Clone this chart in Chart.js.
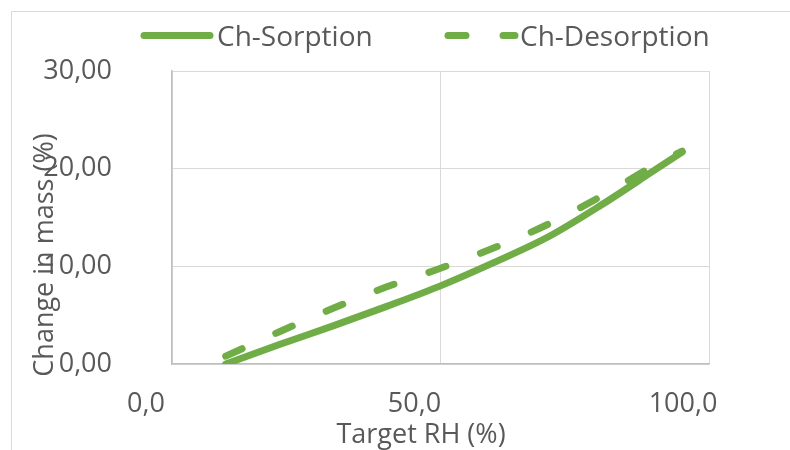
<!DOCTYPE html>
<html>
<head>
<meta charset="utf-8">
<script src="https://cdn.jsdelivr.net/npm/chart.js@4.4.1/dist/chart.umd.min.js"></script>
<style>
  html, body { margin: 0; padding: 0; background: #fff; }
  #wrap { width: 790px; height: 450px; position: relative; }
</style>
</head>
<body>
<div id="wrap"><canvas id="sorption-chart" width="790" height="450"></canvas></div>
<script>
// Dados
const targetRH = [10, 20, 30, 40, 50, 60, 70, 80, 90, 95];
const sorption = [0.0, 2.0, 3.9, 5.9, 8.0, 10.4, 13.0, 16.3, 19.9, 21.7];
const desorption = [0.8, 3.3, 5.7, 7.9, 9.8, 11.9, 14.3, 17.2, 20.4, 21.8];
const seriesNames = ['Ch-Sorption', 'Ch-Desorption'];
const xTickLabels = ['0,0', '50,0', '100,0'];
const yTickLabels = ['0,00', '10,00', '20,00', '30,00'];
const xTitle = 'Target RH (%)';
const yTitle = 'Change in mass (%)';

const green = '#70ad47';
const textGray = '#595959';
const fontFamily = '"Open Sans", "Noto Sans", sans-serif';

function toPoints(xs, ys) {
    return xs.map((x, i) => ({ x: x, y: ys[i] }));
}

// Moldura, legenda e títulos dos eixos
const decorations = {
    id: 'decorations',
    beforeDraw(chart) {
        const ctx = chart.ctx;
        ctx.save();
        ctx.fillStyle = '#ffffff';
        ctx.fillRect(0, 0, chart.width, chart.height);
        ctx.strokeStyle = '#d9d9d9';
        ctx.lineWidth = 1;
        ctx.beginPath();
        ctx.moveTo(11.5, chart.height);
        ctx.lineTo(11.5, 11.5);
        ctx.lineTo(chart.width, 11.5);
        ctx.stroke();
        ctx.restore();
    },
    afterDraw(chart) {
        const ctx = chart.ctx;
        ctx.save();
        ctx.fillStyle = textGray;

        // legenda
        const items = [
            { x0: 144, x1: 210, tx: 217 },
            { x0: 448, x1: 515, tx: 520 }
        ];
        chart.data.datasets.forEach((ds, i) => {
            const it = items[i];
            ctx.strokeStyle = ds.borderColor;
            ctx.lineWidth = ds.borderWidth;
            ctx.lineCap = 'round';
            ctx.setLineDash(ds.borderDash || []);
            ctx.beginPath();
            ctx.moveTo(it.x0, 35.5);
            ctx.lineTo(it.x1, 35.5);
            ctx.stroke();
            ctx.setLineDash([]);
            ctx.font = '28px ' + fontFamily;
            ctx.textAlign = 'left';
            ctx.textBaseline = 'alphabetic';
            ctx.fillText(ds.label, it.tx, 46);
        });

        // títulos
        ctx.font = '27px ' + fontFamily;
        ctx.textAlign = 'center';
        ctx.textBaseline = 'alphabetic';
        ctx.fillText(xTitle, 421, 443);
        ctx.translate(53, 255);
        ctx.rotate(-Math.PI / 2);
        ctx.fillText(yTitle, 0, 0);
        ctx.restore();
    }
};

const data = {
    datasets: [{
        label: seriesNames[0],
        data: toPoints(targetRH, sorption),
        borderColor: green,
        borderWidth: 7,
        borderCapStyle: 'round',
        borderJoinStyle: 'round',
        pointRadius: 0,
        cubicInterpolationMode: 'monotone',
        fill: false
    }, {
        label: seriesNames[1],
        data: toPoints(targetRH, desorption),
        borderColor: green,
        borderWidth: 7,
        borderDash: [18, 37],
        borderCapStyle: 'round',
        borderJoinStyle: 'round',
        pointRadius: 0,
        cubicInterpolationMode: 'monotone',
        fill: false
    }]
};

const config = {
    type: 'line',
    data: data,
    options: {
        responsive: false,
        animation: false,
        layout: {
            padding: { top: 71, right: 81, bottom: 0, left: 0 }
        },
        plugins: {
            legend: { display: false },
            tooltip: { enabled: false }
        },
        scales: {
            x: {
                type: 'linear',
                min: 0,
                max: 100,
                afterFit: (scale) => {
                    scale.height = 86;
                    scale.paddingLeft = 0;
                    scale.paddingRight = 0;
                },
                afterBuildTicks: (scale) => {
                    scale.ticks = [0, 50, 100].map(v => ({ value: v }));
                },
                grid: {
                    color: '#d9d9d9',
                    lineWidth: 1,
                    drawTicks: false
                },
                border: { color: '#bfbfbf', width: 1.5 },
                ticks: {
                    color: textGray,
                    font: { family: fontFamily, size: 27 },
                    padding: 24,
                    labelOffset: -26,
                    maxRotation: 0,
                    callback: (value, index) => xTickLabels[index]
                }
            },
            y: {
                min: 0,
                max: 30,
                afterFit: (scale) => {
                    scale.width = 172;
                    scale.paddingTop = 0;
                    scale.paddingBottom = 0;
                },
                afterBuildTicks: (scale) => {
                    scale.ticks = [0, 10, 20, 30].map(v => ({ value: v }));
                },
                grid: {
                    color: '#d9d9d9',
                    lineWidth: 1,
                    drawTicks: false
                },
                border: { color: '#bfbfbf', width: 1.5 },
                ticks: {
                    color: textGray,
                    font: { family: fontFamily, size: 27 },
                    padding: 60,
                    callback: (value, index) => yTickLabels[index]
                }
            }
        }
    },
    plugins: [decorations]
};

const ctx = document.getElementById('sorption-chart').getContext('2d');
new Chart(ctx, config);
</script>
</body>
</html>
